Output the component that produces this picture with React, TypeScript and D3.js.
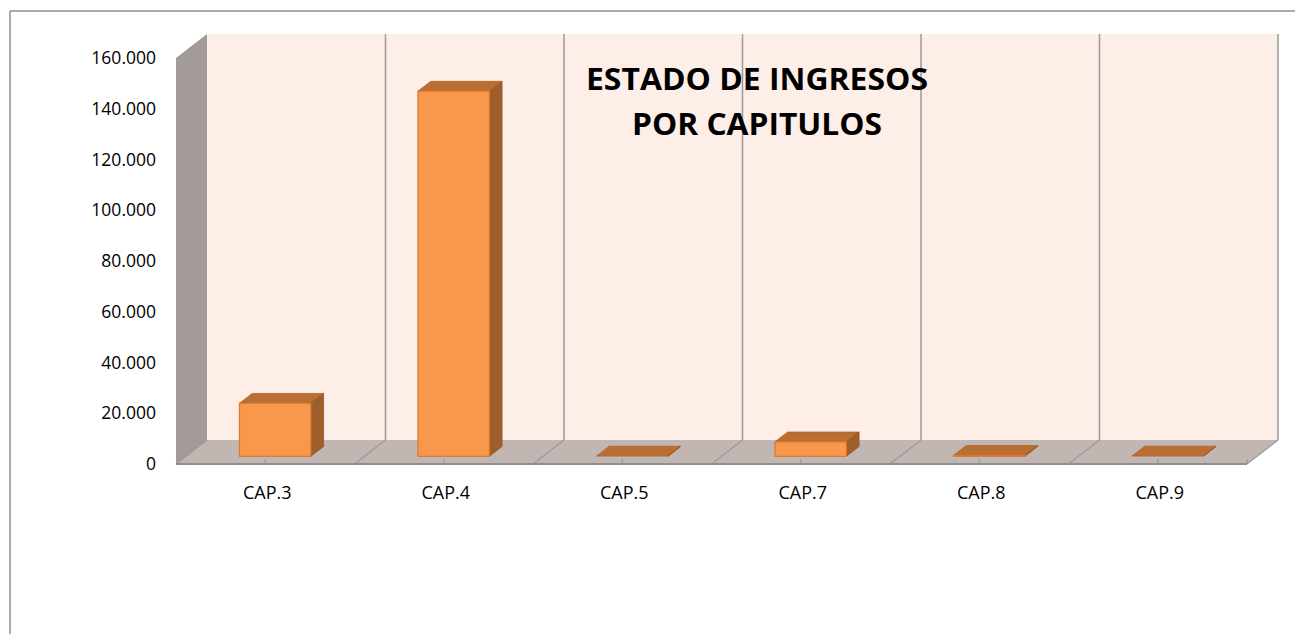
import React from "react";
import * as d3 from "d3";

const categories: string[] = ["CAP.3", "CAP.4", "CAP.5", "CAP.7", "CAP.8", "CAP.9"];
const values: number[] = [20900, 143900, 80, 5700, 350, 120];
const yTicks: number[] = [0, 20000, 40000, 60000, 80000, 100000, 120000, 140000, 160000];
const titleLines: string[] = ["ESTADO DE INGRESOS", "POR CAPITULOS"];

const W = 1295;
const H = 634;
const DX = 31;
const DY = -24;
const T0 = 0.32;
const T1 = 0.73;

const locale = d3.formatLocale({ thousands: ".", decimal: ",", grouping: [3], currency: ["", ""] });
const fmt = locale.format(",d");

export default function App() {
  const x = d3.scaleBand<string>().domain(categories).range([176, 1247]).padding(0);
  const y = d3.scaleLinear().domain([0, 160000]).range([464, 58]);
  const step = x.step();
  const barW = step / 2.5;
  const x0 = x.range()[0];
  const x1 = x.range()[1];
  const yTop = y(160000);
  const yBot = y(0);

  const boundaries = d3.range(categories.length + 1).map((i) => x0 + i * step);

  const pts = (arr: [number, number][]) => arr.map((p) => p.join(",")).join(" ");

  return (
    <svg width={W} height={H} style={{ position: "absolute", left: 0, top: 0, background: "#fff" }}>
      {/* outer frame */}
      <line x1={10} y1={11} x2={W} y2={11} stroke="#8f8f8f" strokeWidth={1.5} />
      <line x1={10} y1={11} x2={10} y2={H} stroke="#8f8f8f" strokeWidth={1.5} />

      {/* back wall */}
      <rect x={x0 + DX} y={yTop + DY} width={x1 - x0} height={yBot - yTop} fill="#fdeee7" />
      {/* left wall */}
      <polygon
        points={pts([
          [x0, yTop],
          [x0 + DX, yTop + DY],
          [x0 + DX, yBot + DY],
          [x0, yBot],
        ])}
        fill="#a29b97"
      />
      {/* floor */}
      <polygon
        points={pts([
          [x0, yBot],
          [x0 + DX, yBot + DY],
          [x1 + DX, yBot + DY],
          [x1, yBot],
        ])}
        fill="#c1b6b1"
      />
      {/* back wall vertical gridlines */}
      {boundaries.map((b, i) =>
        i === 0 ? null : (
          <line key={"g" + i} x1={b + DX} y1={yTop + DY} x2={b + DX} y2={yBot + DY} stroke="#9a9a9a" strokeWidth={1.5} />
        )
      )}
      {/* floor diagonals */}
      {boundaries.map((b, i) => (
        <line key={"f" + i} x1={b} y1={yBot} x2={b + DX} y2={yBot + DY} stroke="#9a9a9a" strokeWidth={1.2} />
      ))}
      {/* front floor edge */}
      <line x1={x0} y1={yBot} x2={x1} y2={yBot} stroke="#8f8f8f" strokeWidth={2} />
      {categories.map((c) => (
        <line key={"t" + c} x1={(x(c) as number) + step / 2} y1={yBot} x2={(x(c) as number) + step / 2} y2={yBot - 5} stroke="#8f8f8f" strokeWidth={1} />
      ))}
      <line x1={x1} y1={yBot} x2={x1} y2={yBot - 5} stroke="#8f8f8f" strokeWidth={1} />

      {/* bars */}
      {categories.map((c, i) => {
        const cx = (x(c) as number) + step / 2;
        const fx = cx - barW / 2 + DX * T0;
        const fy0 = y(0) + DY * T0;
        const fy1 = y(values[i]) + DY * T0;
        const ddx = DX * (T1 - T0);
        const ddy = DY * (T1 - T0);
        return (
          <g key={"b" + c}>
            <polygon
              points={pts([
                [fx, fy1],
                [fx + ddx, fy1 + ddy],
                [fx + barW + ddx, fy1 + ddy],
                [fx + barW, fy1],
              ])}
              fill="#b96e32"
              stroke="#b0652b"
              strokeWidth={0.8}
            />
            <polygon
              points={pts([
                [fx + barW, fy1],
                [fx + barW + ddx, fy1 + ddy],
                [fx + barW + ddx, fy0 + ddy],
                [fx + barW, fy0],
              ])}
              fill="#9d5e2b"
              stroke="#94572a"
              strokeWidth={0.8}
            />
            {fy0 - fy1 > 0.5 && (
              <rect x={fx} y={fy1} width={barW} height={fy0 - fy1} fill="#f9974a" stroke="#d97a33" strokeWidth={1.2} />
            )}
          </g>
        );
      })}

      {/* y labels */}
      {yTicks.map((t) => (
        <text
          key={"y" + t}
          x={156}
          y={y(t) - 1}
          textAnchor="end"
          dominantBaseline="central"
          fontFamily="'Open Sans', sans-serif"
          fontSize={17.5}
          fill="#000"
        >
          {fmt(t)}
        </text>
      ))}

      {/* x labels */}
      {categories.map((c) => (
        <text
          key={"x" + c}
          x={(x(c) as number) + step / 2 + 2}
          y={498.5}
          textAnchor="middle"
          fontFamily="'Open Sans', sans-serif"
          fontSize={18}
          fill="#000"
        >
          {c}
        </text>
      ))}

      {/* title */}
      <text
        x={757}
        y={90}
        textAnchor="middle"
        fontFamily="'Open Sans', sans-serif"
        fontWeight="bold"
        fontSize={29.5}
        textLength={342}
        lengthAdjust="spacingAndGlyphs"
        fill="#000"
      >
        {titleLines[0]}
      </text>
      <text
        x={757}
        y={135}
        textAnchor="middle"
        fontFamily="'Open Sans', sans-serif"
        fontWeight="bold"
        fontSize={29.5}
        textLength={250}
        lengthAdjust="spacingAndGlyphs"
        fill="#000"
      >
        {titleLines[1]}
      </text>
    </svg>
  );
}
